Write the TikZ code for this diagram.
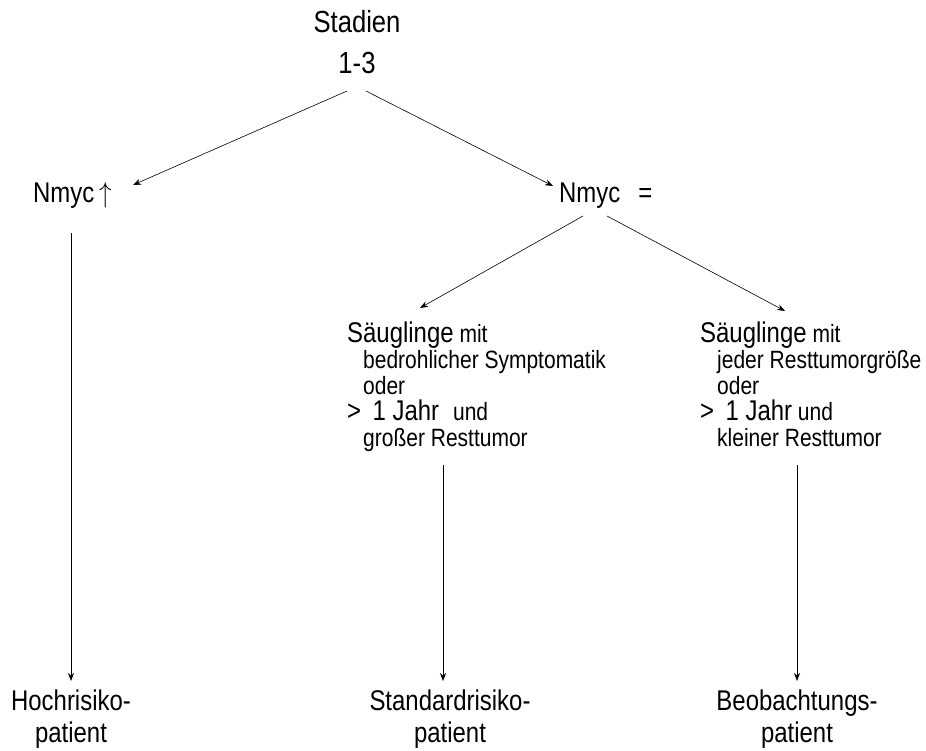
\documentclass[tikz,border=0pt]{standalone}
\usepackage{fontspec}
\setmainfont{Liberation Sans}[FakeStretch=0.84]
\usetikzlibrary{positioning}
\usetikzlibrary{arrows.meta}

\tikzset{
  pfeil/.style={-{Stealth[length=8pt,width=6pt]}, line width=0.6pt},
  titel/.style={inner sep=0pt, anchor=base, font=\fontsize{30.5}{32}\selectfont},
  gross/.style={inner sep=0pt, anchor=base west, font=\fontsize{28.5}{30}\selectfont},
  block/.style={inner sep=0pt, align=left, anchor=north west, font=\fontsize{25}{26}\selectfont},
  ende/.style={inner sep=0pt, align=center, anchor=north, font=\fontsize{28.5}{32}\selectfont}
}
\newcommand{\gw}[1]{{\fontsize{28.5}{26}\selectfont #1}}

\begin{document}
\begin{tikzpicture}[x=1pt,y=-1pt]
\useasboundingbox (0,0) rectangle (926,751);
\node[titel] (stadien) at (357,33) {Stadien};
\node[titel] (nr) at (357,74) {1-3};
\node[gross] (nhoch) at (33,203) {Nmyc\,\scalebox{1}[1.15]{$\uparrow$}};
\node[gross] (ngleich) at (559,203) {Nmyc\hspace{18pt}=};
\node[block] (saeugl) at (347,322) {\gw{Säuglinge} mit\\
  \hspace*{16pt}bedrohlicher Symptomatik\\
  \hspace*{16pt}oder\\
  \gw{>\hspace{0.4em}1 Jahr}\hspace{14pt}und\\
  \hspace*{16pt}großer Resttumor};
\node[block] (saeugr) at (700,322) {\gw{Säuglinge} mit\\
  \hspace*{17pt}jeder Resttumorgröße\\
  \hspace*{17pt}oder\\
  \gw{>\hspace{0.4em}1 Jahr} und\\
  \hspace*{17pt}kleiner Resttumor};
\node[ende] (hoch) at (71,690) {Hochrisiko-\\patient};
\node[ende] (standard) at (450,690) {Standardrisiko-\\patient};
\node[ende] (beob) at (797,690) {Beobachtungs-\\patient};

\draw[pfeil] ([shift={(-10pt,-17pt)}]nr.base) -- ([shift={(100pt,18pt)}]nhoch.base west);
\draw[pfeil] ([shift={(9pt,-17pt)}]nr.base) -- ([shift={(-6pt,17pt)}]ngleich.base west);
\draw[pfeil] ([shift={(24pt,-13pt)}]ngleich.base west) -- ([shift={(73pt,14pt)}]saeugl.north west);
\draw[pfeil] ([shift={(48pt,-13pt)}]ngleich.base west) -- ([shift={(85pt,11pt)}]saeugr.north west);
\draw[pfeil, shorten <=24pt, shorten >=9pt] (hoch.north |- nhoch.south) -- (hoch.north);
\draw[pfeil, shorten >=9pt] ([shift={(96pt,-13pt)}]saeugl.south west) coordinate (m1) -- (m1 |- standard.north);
\draw[pfeil, shorten <=18pt, shorten >=9pt] (beob.north |- saeugr.south) -- (beob.north);
\end{tikzpicture}
\end{document}
